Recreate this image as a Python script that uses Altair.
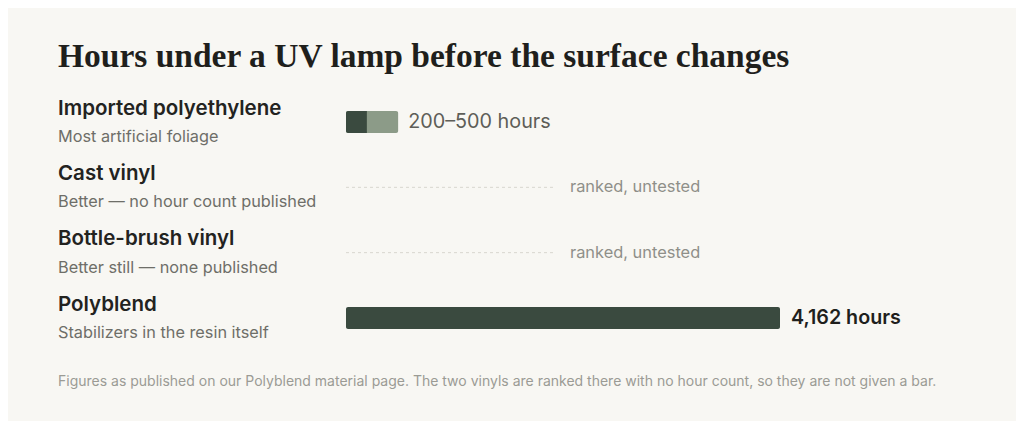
import altair as alt
import pandas as pd

# ---- data ----
materials = ["Imported polyethylene", "Cast vinyl", "Bottle-brush vinyl", "Polyblend"]
notes = ["Most artificial foliage", "Better \u2014 no hour count published",
         "Better still \u2014 none published", "Stabilizers in the resin itself"]
hours_low = [200, None, None, 4162]
hours_high = [500, None, None, 4162]
value_labels = ["200\u2013500 hours", "ranked, untested", "ranked, untested", "4,162 hours"]
tested = [True, False, False, True]
PLACEHOLDER_HOURS = 1985  # length of dashed "no bar" guide
title_text = "Hours under a UV lamp before the surface changes"
footnote = ("Figures as published on our Polyblend material page. The two vinyls are ranked there "
            "with no hour count, so they are not given a bar.")

df = pd.DataFrame({
    "material": materials, "note": notes, "low": hours_low, "high": hours_high,
    "label": value_labels, "tested": tested,
})
df["start"] = 0
df["guide"] = [None if t else PLACEHOLDER_HOURS for t in tested]
df["label_x"] = [h if t else PLACEHOLDER_HOURS for h, t in zip(hours_high, tested)]

BG = "#f8f7f3"
DARK = "#3a4a3f"
LIGHT = "#8c9b88"

xs = alt.Scale(domain=[0, 4162], range=[288, 722])
ys = alt.Scale(type="point", domain=materials, range=[34, 230], padding=0)
Y = alt.Y("material:N", scale=ys, axis=None)

base = alt.Chart(df)

name_txt = base.mark_text(align="left", baseline="alphabetic", dy=-7.5, fontSize=20.5,
                          fontWeight=600, font="Inter", color="#23231f").encode(
    x=alt.value(0), y=Y, text="material:N")
note_txt = base.mark_text(align="left", baseline="alphabetic", dy=20, fontSize=16.3,
                          font="Inter", color="#6e6e68").encode(
    x=alt.value(0), y=Y, text="note:N")

range_bar = base.transform_filter("datum.low != datum.high && datum.tested").mark_bar(
    height=22, cornerRadius=2, color=LIGHT).encode(
    x=alt.X("start:Q", scale=xs, axis=None), x2="high:Q", y=Y)
low_bar = base.transform_filter("datum.low != datum.high && datum.tested").mark_bar(
    height=22, cornerRadiusTopLeft=2, cornerRadiusBottomLeft=2, color=DARK).encode(
    x=alt.X("start:Q", scale=xs, axis=None), x2="low:Q", y=Y)
full_bar = base.transform_filter("datum.low == datum.high && datum.tested").mark_bar(
    height=22, cornerRadius=2, color=DARK).encode(
    x=alt.X("start:Q", scale=xs, axis=None), x2="high:Q", y=Y)
guide = base.transform_filter("!datum.tested").mark_rule(
    strokeDash=[3, 3], strokeWidth=1, color="#d8d6cf").encode(
    x=alt.X("start:Q", scale=xs, axis=None), x2="guide:Q", y=Y)

range_lbl = base.transform_filter("datum.material == 'Imported polyethylene'").mark_text(
    align="left", baseline="middle", dx=10, fontSize=19.8, font="Inter", color="#5e5e58").encode(
    x=alt.X("label_x:Q", scale=xs, axis=None), y=Y, text="label:N")
untested_lbl = base.transform_filter("!datum.tested").mark_text(
    align="left", baseline="middle", dx=17, fontSize=16.4, font="Inter", color="#8f8f89").encode(
    x=alt.X("label_x:Q", scale=xs, axis=None), y=Y, text="label:N")
poly_lbl = base.transform_filter("datum.material == 'Polyblend'").mark_text(
    align="left", baseline="middle", dx=11, fontSize=19.7, fontWeight=600, font="Inter",
    color="#1f1f1c").encode(
    x=alt.X("label_x:Q", scale=xs, axis=None), y=Y, text="label:N")

foot = alt.Chart(pd.DataFrame({"t": [footnote]})).mark_text(
    align="left", baseline="middle", fontSize=14, font="Inter", color="#9b9b95").encode(
    x=alt.value(0), y=alt.value(294), text="t:N")

chart = alt.layer(name_txt, note_txt, range_bar, low_bar, full_bar, guide,
                  range_lbl, untested_lbl, poly_lbl, foot).properties(
    width=950, height=325,
    title=alt.TitleParams(title_text, anchor="start", frame="group", font="Liberation Serif",
                          fontSize=33.5, fontWeight="bold", color="#1f1f1c", offset=14),
    padding={"left": 50, "top": 80, "right": 8, "bottom": 8},
    autosize=alt.AutoSizeParams(type="none"),
    background=BG,
).configure_view(stroke=None)

chart.save("out.html", embed_options={"renderer": "svg", "actions": False})
